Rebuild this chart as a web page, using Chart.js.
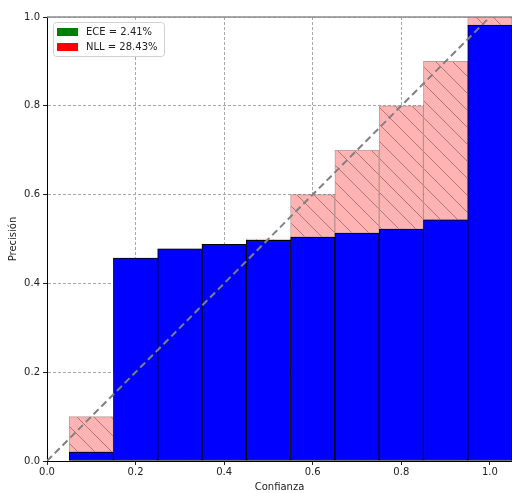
<!DOCTYPE html>
<html>
<head>
<meta charset="utf-8">
<script src="https://cdn.jsdelivr.net/npm/chart.js@4"></script>
<style>
  html, body { margin: 0; padding: 0; background: #fff; }
  #wrap { width: 512px; height: 493px; }
</style>
</head>
<body>
<div id="wrap"><canvas id="reliability"></canvas></div>
<script>
// centros de los bins de confianza (ancho 0.1)
const binCenters = [0.1, 0.2, 0.3, 0.4, 0.5, 0.6, 0.7, 0.8, 0.9, 1.0];
// precisión observada en cada bin
const accuracy = [0.02, 0.457, 0.478, 0.488, 0.497, 0.504, 0.513, 0.522, 0.543, 0.981];
const xTicks = [0.0, 0.2, 0.4, 0.6, 0.8, 1.0];
const yTicks = [0.0, 0.2, 0.4, 0.6, 0.8, 1.0];
const legendLabels = ["ECE = 2.41%", "NLL = 28.43%"];
const legendColors = ["#008000", "#ff0000"];

const FONT = "DejaVu Sans";

// relleno rayado para la brecha entre confianza y precisión
function hatchPattern() {
  const s = 17;
  const c = document.createElement("canvas");
  c.width = s;
  c.height = s;
  const g = c.getContext("2d");
  g.fillStyle = "#ffb3b3";
  g.fillRect(0, 0, s, s);
  g.strokeStyle = "rgba(150, 90, 90, 0.7)";
  g.lineWidth = 1;
  g.beginPath();
  g.moveTo(-2, -2); g.lineTo(s + 2, s + 2);
  g.moveTo(-2, s - 2); g.lineTo(2, s + 2);
  g.moveTo(s - 2, -2); g.lineTo(s + 2, 2);
  g.stroke();
  const ctx = document.getElementById("reliability").getContext("2d");
  return ctx.createPattern(c, "repeat");
}

const accData = binCenters.map((x, i) => ({ x: x, y: accuracy[i] }));
const gapData = binCenters.map((x, i) => ({ x: x, y: [accuracy[i], x] }));

// leyenda dentro del área del gráfico, arriba a la izquierda
const legendBox = {
  id: "legendBox",
  afterDatasetsDraw(chart) {
    const ctx = chart.ctx;
    const a = chart.chartArea;
    const x = a.left + 6, y = a.top + 5, w = 111, h = 34;
    ctx.save();
    ctx.fillStyle = "rgba(255,255,255,0.9)";
    ctx.strokeStyle = "#d0d0d0";
    ctx.lineWidth = 1;
    ctx.beginPath();
    ctx.roundRect(x + 0.5, y + 0.5, w, h, 3);
    ctx.fill();
    ctx.stroke();
    ctx.font = "10px '" + FONT + "'";
    ctx.textBaseline = "middle";
    legendLabels.forEach((label, i) => {
      const cy = y + 10 + i * 15;
      ctx.fillStyle = legendColors[i];
      ctx.fillRect(x + 4, cy - 4, 21, 8);
      ctx.fillStyle = "#222";
      ctx.fillText(label, x + 33, cy);
    });
    ctx.restore();
  }
};

// línea superior del marco
const topFrame = {
  id: "topFrame",
  beforeDatasetsDraw(chart) {
    const ctx = chart.ctx;
    const a = chart.chartArea;
    ctx.save();
    ctx.strokeStyle = "#8c8c8c";
    ctx.lineWidth = 1.5;
    ctx.beginPath();
    ctx.moveTo(a.left, a.top);
    ctx.lineTo(a.right, a.top);
    ctx.stroke();
    ctx.restore();
  }
};

new Chart(document.getElementById("reliability"), {
  type: "bar",
  data: {
    datasets: [
      {
        type: "line",
        data: [{ x: 0, y: 0 }, { x: 1, y: 1 }],
        borderColor: "#808080",
        borderWidth: 2,
        borderDash: [7, 4],
        pointRadius: 0,
        order: 0
      },
      {
        data: accData,
        backgroundColor: "#0000ff",
        borderColor: "#000",
        borderWidth: 1,
        borderSkipped: false,
        grouped: false,
        barPercentage: 1,
        categoryPercentage: 1,
        order: 1
      },
      {
        data: gapData,
        backgroundColor: hatchPattern(),
        borderColor: "rgba(140, 90, 90, 0.6)",
        borderWidth: 1,
        borderSkipped: false,
        grouped: false,
        barPercentage: 1,
        categoryPercentage: 1,
        order: 2
      }
    ]
  },
  options: {
    responsive: true,
    maintainAspectRatio: false,
    animation: false,
    layout: { padding: { top: 17, right: 0, left: 0, bottom: 0 } },
    plugins: { legend: { display: false }, tooltip: { enabled: false } },
    scales: {
      x: {
        type: "linear",
        min: 0,
        max: 1.05,
        offset: false,
        afterBuildTicks: (s) => { s.ticks = xTicks.map((v) => ({ value: v })); },
        afterFit: (s) => { s.height = 32; },
        ticks: {
          color: "#222",
          font: { family: FONT, size: 10 },
          padding: 1,
          maxRotation: 0,
          callback: (v) => v.toFixed(1)
        },
        grid: { offset: false, color: "#a8a8a8", tickColor: "#222", tickLength: 4, tickBorderDash: [] },
        border: { color: "#000", width: 1, dash: [3, 2] },
        title: {
          display: true,
          text: "Confianza",
          color: "#222",
          font: { family: FONT, size: 10 },
          padding: { top: 0, bottom: 0 }
        }
      },
      y: {
        min: 0,
        max: 1,
        afterBuildTicks: (s) => { s.ticks = yTicks.map((v) => ({ value: v })); },
        afterFit: (s) => { s.width = 47; },
        ticks: {
          color: "#222",
          font: { family: FONT, size: 10 },
          padding: 3,
          callback: (v) => v.toFixed(1)
        },
        grid: { offset: false, color: "#a8a8a8", tickColor: "#222", tickLength: 4, tickBorderDash: [] },
        border: { color: "#000", width: 1, dash: [3, 2] },
        title: {
          display: true,
          text: "Precisión",
          color: "#222",
          font: { family: FONT, size: 10 },
          padding: { top: 7, bottom: 7 }
        }
      }
    }
  },
  plugins: [legendBox, topFrame]
});
</script>
</body>
</html>
